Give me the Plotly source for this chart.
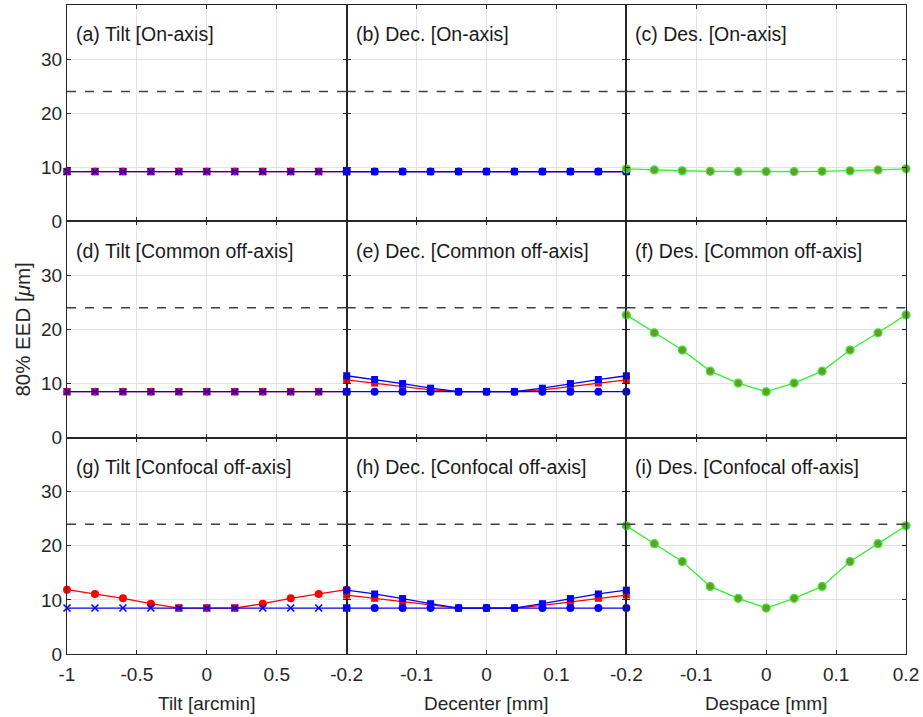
import plotly.graph_objects as go
from plotly.subplots import make_subplots

# ---------------- data ----------------
tilt = [-1.0, -0.8, -0.6, -0.4, -0.2, 0.0, 0.2, 0.4, 0.6, 0.8, 1.0]
decenter = [-0.2, -0.16, -0.12, -0.08, -0.04, 0.0, 0.04, 0.08, 0.12, 0.16, 0.2]
despace = [-0.2, -0.16, -0.12, -0.08, -0.04, 0.0, 0.04, 0.08, 0.12, 0.16, 0.2]

threshold = 24

# (a) Tilt on-axis
a_red = [9.2, 9.2, 9.2, 9.2, 9.2, 9.2, 9.2, 9.2, 9.2, 9.2, 9.2]
a_blue = [9.2, 9.2, 9.2, 9.2, 9.2, 9.2, 9.2, 9.2, 9.2, 9.2, 9.2]
# (b) Decenter on-axis
b_red = [9.2, 9.2, 9.2, 9.2, 9.2, 9.2, 9.2, 9.2, 9.2, 9.2, 9.2]
b_bsq = [9.2, 9.2, 9.2, 9.2, 9.2, 9.2, 9.2, 9.2, 9.2, 9.2, 9.2]
b_bci = [9.2, 9.2, 9.2, 9.2, 9.2, 9.2, 9.2, 9.2, 9.2, 9.2, 9.2]
# (c) Despace on-axis
c_green = [9.7, 9.5, 9.35, 9.25, 9.2, 9.2, 9.2, 9.25, 9.35, 9.5, 9.7]
# (d) Tilt common off-axis
d_red = [8.5, 8.5, 8.5, 8.5, 8.5, 8.5, 8.5, 8.5, 8.5, 8.5, 8.5]
d_blue = [8.5, 8.5, 8.5, 8.5, 8.5, 8.5, 8.5, 8.5, 8.5, 8.5, 8.5]
# (e) Decenter common off-axis
e_red = [10.7, 10.1, 9.5, 8.85, 8.5, 8.5, 8.5, 8.85, 9.5, 10.1, 10.7]
e_bsq = [11.45, 10.75, 10.0, 9.15, 8.5, 8.5, 8.5, 9.15, 10.0, 10.75, 11.45]
e_bci = [8.5, 8.5, 8.5, 8.5, 8.5, 8.5, 8.5, 8.5, 8.5, 8.5, 8.5]
# (f) Despace common off-axis
f_green = [22.7, 19.4, 16.2, 12.3, 10.1, 8.5, 10.1, 12.3, 16.2, 19.4, 22.7]
# (g) Tilt confocal off-axis
g_red = [11.9, 11.1, 10.3, 9.3, 8.5, 8.5, 8.5, 9.3, 10.3, 11.1, 11.9]
g_blue = [8.5, 8.5, 8.5, 8.5, 8.5, 8.5, 8.5, 8.5, 8.5, 8.5, 8.5]
# (h) Decenter confocal off-axis
h_red = [10.9, 10.3, 9.6, 9.0, 8.5, 8.5, 8.5, 9.0, 9.6, 10.3, 10.9]
h_bsq = [11.8, 11.1, 10.25, 9.3, 8.5, 8.5, 8.5, 9.3, 10.25, 11.1, 11.8]
h_bci = [8.5, 8.5, 8.5, 8.5, 8.5, 8.5, 8.5, 8.5, 8.5, 8.5, 8.5]
# (i) Despace confocal off-axis
i_green = [23.7, 20.4, 17.1, 12.5, 10.3, 8.5, 10.3, 12.5, 17.1, 20.4, 23.7]

panel_titles = [
    "(a) Tilt [On-axis]", "(b) Dec. [On-axis]", "(c) Des. [On-axis]",
    "(d) Tilt [Common off-axis]", "(e) Dec. [Common off-axis]", "(f) Des. [Common off-axis]",
    "(g) Tilt [Confocal off-axis]", "(h) Dec. [Confocal off-axis]", "(i) Des. [Confocal off-axis]",
]
x_titles = ["Tilt [arcmin]", "Decenter [mm]", "Despace [mm]"]
y_title = "80% EED [<i>μ</i>m]"

# grid positions per column and the labels shown (blank where a neighbour's label sits)
tilt_grid = [-1, -0.5, 0, 0.5, 1]
tilt_ticktext = ["-1", "-0.5", "0", "0.5", ""]
dec_grid = [-0.2, -0.1, 0, 0.1, 0.2]
dec_ticktext = ["-0.2", "-0.1", "0", "0.1", ""]
des_grid = [-0.2, -0.1, 0, 0.1, 0.2]
des_ticktext = ["-0.2", "-0.1", "0", "0.1", "0.2"]
y_ticks = [0, 10, 20, 30]
y_ticktext = ["0", "10", "20", "30"]

# ---------------- styles ----------------
FONT = "Liberation Sans, Arial, sans-serif"
FS = 19
FS_T = 19.5
RED = "#ff0000"
BLUE = "#0000ff"
GREEN_LINE = "#33f033"
GREEN_FILL = "#6a9a2a"
AXC = "#262626"
GRIDC = "#e3e3e3"
LW = 1.3

fig = make_subplots(rows=3, cols=3, horizontal_spacing=0, vertical_spacing=0)


def add(x, y, r, c, color, symbol, size, mfill, mline_color, mline_w):
    fig.add_trace(go.Scatter(x=x, y=y, mode="lines+markers", cliponaxis=False,
                             line=dict(color=color, width=LW),
                             marker=dict(symbol=symbol, size=size, color=mfill,
                                         line=dict(color=mline_color, width=mline_w))),
                  row=r, col=c)


def red_circ(x, y, r, c):
    add(x, y, r, c, RED, "circle", 8, RED, RED, 0)


def blue_x(x, y, r, c):
    add(x, y, r, c, BLUE, "x-thin", 7, BLUE, BLUE, 1.6)


def red_sq(x, y, r, c):
    add(x, y, r, c, RED, "square", 7, RED, RED, 0)


def blue_sq(x, y, r, c):
    add(x, y, r, c, BLUE, "square", 7, BLUE, BLUE, 0)


def blue_circ(x, y, r, c):
    add(x, y, r, c, BLUE, "circle", 8, BLUE, BLUE, 0)


def green(x, y, r, c):
    add(x, y, r, c, GREEN_LINE, "circle", 8, GREEN_FILL, GREEN_LINE, 1.2)


# Row 1
red_circ(tilt, a_red, 1, 1); blue_x(tilt, a_blue, 1, 1)
red_sq(decenter, b_red, 1, 2); blue_sq(decenter, b_bsq, 1, 2); blue_circ(decenter, b_bci, 1, 2)
green(despace, c_green, 1, 3)
# Row 2
red_circ(tilt, d_red, 2, 1); blue_x(tilt, d_blue, 2, 1)
red_sq(decenter, e_red, 2, 2); blue_sq(decenter, e_bsq, 2, 2); blue_circ(decenter, e_bci, 2, 2)
green(despace, f_green, 2, 3)
# Row 3
red_circ(tilt, g_red, 3, 1); blue_x(tilt, g_blue, 3, 1)
red_sq(decenter, h_red, 3, 2); blue_sq(decenter, h_bsq, 3, 2); blue_circ(decenter, h_bci, 3, 2)
green(despace, i_green, 3, 3)

xranges = [[-1, 1], [-0.2, 0.2], [-0.2, 0.2]]
xgrids = [(tilt_grid, tilt_ticktext), (dec_grid, dec_ticktext), (des_grid, des_ticktext)]

for r in range(1, 4):
    for c in range(1, 4):
        gv, gt = xgrids[c - 1]
        fig.update_xaxes(row=r, col=c, range=xranges[c - 1], tickmode="array",
                         tickvals=gv, ticktext=gt,
                         showticklabels=(r == 3), showline=True, linecolor=AXC, linewidth=1,
                         mirror="allticks", ticks="inside", ticklen=4, tickcolor=AXC,
                         ticklabelstandoff=3,
                         showgrid=True, gridcolor=GRIDC, gridwidth=1, zeroline=False,
                         tickfont=dict(family=FONT, size=FS, color=AXC))
        fig.update_yaxes(row=r, col=c, range=[0, 40], tickmode="array",
                         tickvals=y_ticks, ticktext=y_ticktext,
                         showticklabels=(c == 1), showline=True, linecolor=AXC, linewidth=1,
                         mirror="allticks", ticks="inside", ticklen=4, tickcolor=AXC,
                         showgrid=True, gridcolor=GRIDC, gridwidth=1, zeroline=False,
                         tickfont=dict(family=FONT, size=FS, color=AXC))
        fig.add_hline(y=threshold, row=r, col=c, line=dict(color="#404040", width=1.5, dash="dash"))

annos = []
idx = 0
for r in range(1, 4):
    for c in range(1, 4):
        n = (r - 1) * 3 + c
        suffix = "" if n == 1 else str(n)
        annos.append(dict(text=panel_titles[idx], xref=f"x{suffix} domain", yref=f"y{suffix} domain",
                          x=0.025, y=0.865, xanchor="left", yanchor="middle", showarrow=False,
                          font=dict(family=FONT, size=FS_T, color="#1a1a1a")))
        idx += 1

for c in range(1, 4):
    n = 6 + c
    annos.append(dict(text=x_titles[c - 1], xref=f"x{n} domain", yref="paper",
                      x=0.5, y=-0.077, xanchor="center", yanchor="middle", showarrow=False,
                      font=dict(family=FONT, size=FS, color=AXC)))

annos.append(dict(text=y_title, xref="paper", yref="paper", x=-0.0535, y=0.5,
                  xanchor="center", yanchor="middle", textangle=-90, showarrow=False,
                  font=dict(family=FONT, size=20.5, color=AXC)))

fig.update_layout(
    width=923, height=717,
    margin=dict(l=67, r=15, t=4, b=63),
    paper_bgcolor="white", plot_bgcolor="white",
    showlegend=False,
    annotations=annos,
    font=dict(family=FONT, size=FS, color=AXC),
)

fig.write_html("out.html",
               config={"displayModeBar": False},
               post_script="document.body.style.margin='0';document.body.style.padding='0';"
                           "document.documentElement.style.overflow='hidden';")
